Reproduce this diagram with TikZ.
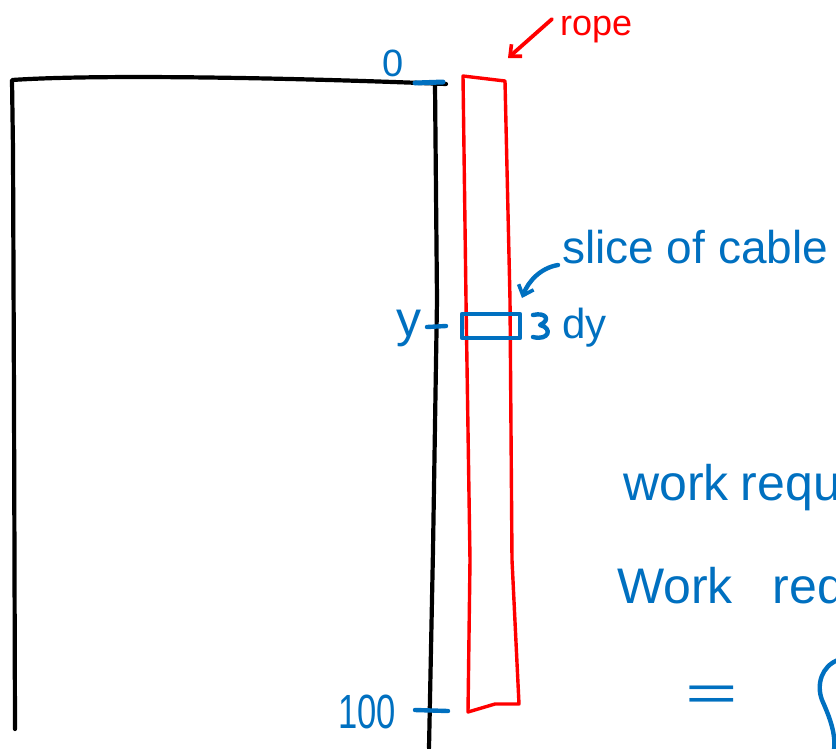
\documentclass[tikz,border=0pt]{standalone}
\usepackage{fontspec}
\setmainfont{Liberation Sans}
\usetikzlibrary{arrows.meta}
\definecolor{penblue}{RGB}{0,112,192}
\definecolor{penred}{RGB}{255,0,0}
\begin{document}
\begin{tikzpicture}[x=1pt,y=-1pt,
  bld/.style={draw=black,line width=4.2pt,line cap=round,line join=round},
  ropeline/.style={draw=penred,line width=3.4pt,line cap=round,line join=round},
  blu/.style={draw=penblue,line width=4.4pt,line cap=round,line join=round},
  bluetxt/.style={text=penblue,inner sep=0pt},
  redtxt/.style={text=penred,inner sep=0pt},
  barb/.style={-{Straight Barb[length=9pt,width=16pt,line width=3.6pt]}}
]
\useasboundingbox (0,0) rectangle (836,748);
\clip (0,0) rectangle (836,748);
\fill[white] (0,0) rectangle (836,748);

% building
\draw[bld] (15,729) -- (14,400) -- (13,150) -- (12,80) .. controls (100,74) and (300,78) .. (446,84);
\draw[bld] (435,84) -- (437,300) -- (433,550) -- (429,748);

% rope
\draw[ropeline] (463,76) -- (505,81) -- (510,300) -- (512,560) -- (519,704)
  -- (495,704) -- (468,712) -- (470,560) -- (466,300) -- cycle;
\coordinate (ropetop) at (508,58);
\coordinate (ropeside) at (522,298);

% labels of rope
\node[redtxt,anchor=base west,font=\fontsize{36}{40}\selectfont] (ropelbl) at (560,35) {rope};
\draw[ropeline,line width=3.8pt,barb] (ropelbl.west) ++(-8,-10) coordinate (rs) -- (ropetop);

% 0 mark
\node[bluetxt,font=\fontsize{38}{42}\selectfont] (zero) at (393,63) {0};
\coordinate (z1) at (415,83);
\coordinate (z2) at (443,82);
\draw[blu,line width=5pt] (z1) -- (z2);

% y mark
\node[bluetxt,anchor=base west,font=\fontsize{50}{54}\selectfont] (ylbl) at (396,336) {y};
\coordinate (y1) at (427,327);
\coordinate (y2) at (446,326);
\draw[blu] (y1) -- (y2);

% slice
\node[blu,minimum width=58pt,minimum height=24pt,inner sep=0pt] (slice) at (491,326) {};
\coordinate (b1) at (533,315);
\coordinate (b2) at (540,325);
\coordinate (b3) at (533,337);
\draw[blu] (b1) .. controls (546,312) and (551,320) .. (b2)
  .. controls (553,328) and (549,341) .. (b3);
\node[bluetxt,anchor=base west,font=\fontsize{42}{46}\selectfont] (dy) at (562,338) {dy};

\node[bluetxt,anchor=base west,font=\fontsize{46}{50}\selectfont] (slicelbl) at (562,263) {slice of cable};
\draw[blu,barb] ([xshift=-4pt,yshift=-2pt]slicelbl.base west) .. controls (540,268) and (528,282) .. (ropeside);

% 100 mark
\node[bluetxt,anchor=base west,xscale=0.72,font=\fontsize{48}{52}\selectfont] (hundred) at (338,728) {100};
\coordinate (h1) at (415,710);
\coordinate (h2) at (448,711);
\draw[blu] (h1) -- (h2);

% work lines
\node[bluetxt,anchor=base west,font=\fontsize{50}{54}\selectfont] (work1) at (623,500) {work\kern12pt requ};
\node[bluetxt,anchor=base west,font=\fontsize{50}{54}\selectfont] (work2) at (617,603) {Work\kern40pt req};
\node[bluetxt,xscale=1.8,font=\fontsize{50}{54}\selectfont] (eq) at (712,698) {=};

% integral stroke (cut off at edge)
\draw[blu] (838,660) .. controls (822,666) and (816,684) .. (822,700)
  .. controls (830,718) and (836,734) .. (834,750);
\end{tikzpicture}
\end{document}
